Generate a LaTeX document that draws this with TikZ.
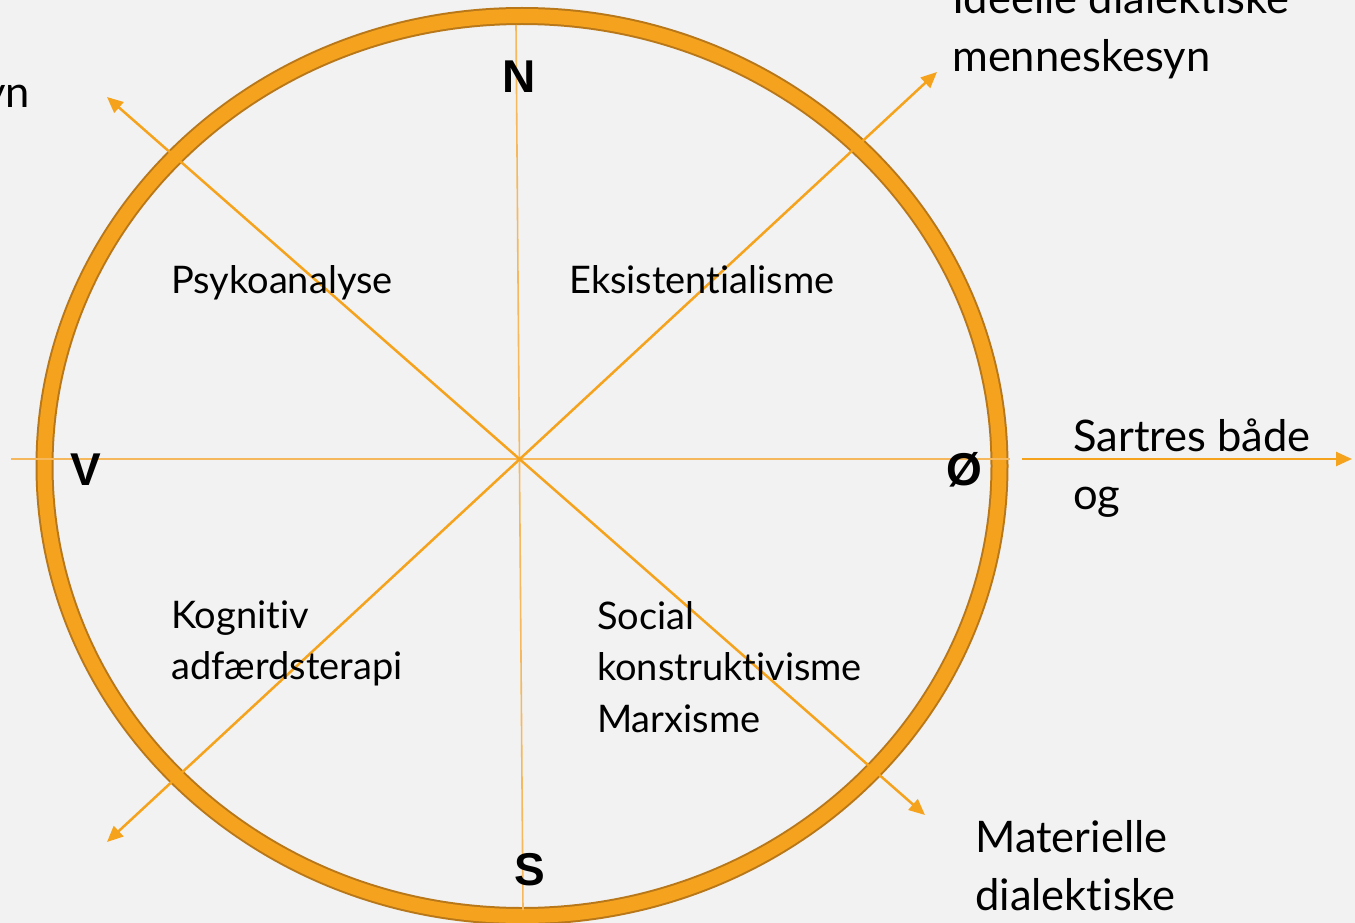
\documentclass[tikz,border=0pt]{standalone}
\usepackage{fontspec}
\setmainfont{Lato}[Ligatures=NoCommon]
\newfontfamily\compassfont{Liberation Sans}[BoldFont={Liberation Sans Bold}]
\usetikzlibrary{arrows.meta}
\definecolor{bgc}{HTML}{F2F2F2}
\definecolor{ringdark}{HTML}{B8781A}
\definecolor{ringfill}{HTML}{F5A31F}
\definecolor{thinc}{HTML}{F5B85C}
\definecolor{diagc}{HTML}{F5A21D}
\newcommand{\inlines}[1]{\begin{tabular}[t]{@{}l@{}}#1\end{tabular}}
\tikzset{
  ringouter/.style={draw=ringdark, line width=18pt},
  ringinner/.style={draw=ringfill, line width=14pt},
  axisline/.style={draw=thinc, line width=1.6pt},
  diagarrow/.style={draw=diagc, line width=2.5pt, {Triangle[length=16pt,width=14pt]}-{Triangle[length=16pt,width=14pt]}},
  eastarrow/.style={draw=diagc, line width=2.6pt, -{Triangle[length=16pt,width=14pt]}},
  inlabel/.style={anchor=base west, inner sep=0pt, font=\fontsize{38}{51.5}\selectfont},
  outlabel/.style={anchor=base west, inner sep=0pt, font=\fontsize{43.5}{58}\selectfont},
  compass/.style={inner sep=0pt, font=\compassfont\bfseries\fontsize{46}{46}\selectfont}
}
\begin{document}
\begin{tikzpicture}[x=1pt,y=-1pt]
\useasboundingbox (0,0) rectangle (1355,923);
\clip (0,0) rectangle (1355,923);
\fill[bgc] (0,0) rectangle (1355,923);
% ring
\draw[ringouter] (522,466) ellipse [x radius=477.5, y radius=450];
\draw[ringinner] (522,466) ellipse [x radius=477.5, y radius=450];
% coordinates
\coordinate (c) at (520,459);
\coordinate (ntop) at (516,25);
\coordinate (sbot) at (523,910);
\coordinate (wend) at (11,459);
\coordinate (eend) at (1010,459);
\coordinate (estart) at (1022,459);
\coordinate (etip) at (1352,459);
\coordinate (nwtip) at (107,97);
\coordinate (setip) at (925,815);
\coordinate (netip) at (937,72);
\coordinate (swtip) at (107,842);
% axes
\draw[axisline] (ntop) -- (sbot);
\draw[axisline] (wend) -- (eend);
\draw[eastarrow] (estart) -- (etip);
\draw[diagarrow] (nwtip) -- (setip);
\draw[diagarrow] (swtip) -- (netip);
% compass letters
\node[compass] (N) at (519,77) {N};
\node[compass] (V) at (86,470) {V};
\node[compass] (O) at (964,470) {Ø};
\node[compass] (S) at (530,870) {S};
% inner labels
\node[inlabel] (psy) at (171,293) {Psykoanalyse};
\node[inlabel] (eks) at (569,293) {Eksistentialisme};
\node[inlabel] (kog) at (171,628) {\inlines{Kognitiv\\adfærdsterapi}};
\node[inlabel] (soc) at (597,629) {\inlines{Social\\konstruktivisme\\Marxisme}};
% outer labels
\node[outlabel] (sar) at (1073,451) {\inlines{Sartres både\\og}};
\node[outlabel] (ide) at (952,14) {\inlines{Ideelle dialektiske\\menneskesyn}};
\node[outlabel] (mat) at (975,852) {\inlines{Materielle\\dialektiske}};
\node[anchor=base east, inner sep=0pt, font=\fontsize{43.5}{58}\selectfont] (yn) at (30,108) {menneskesyn};
\end{tikzpicture}
\end{document}
